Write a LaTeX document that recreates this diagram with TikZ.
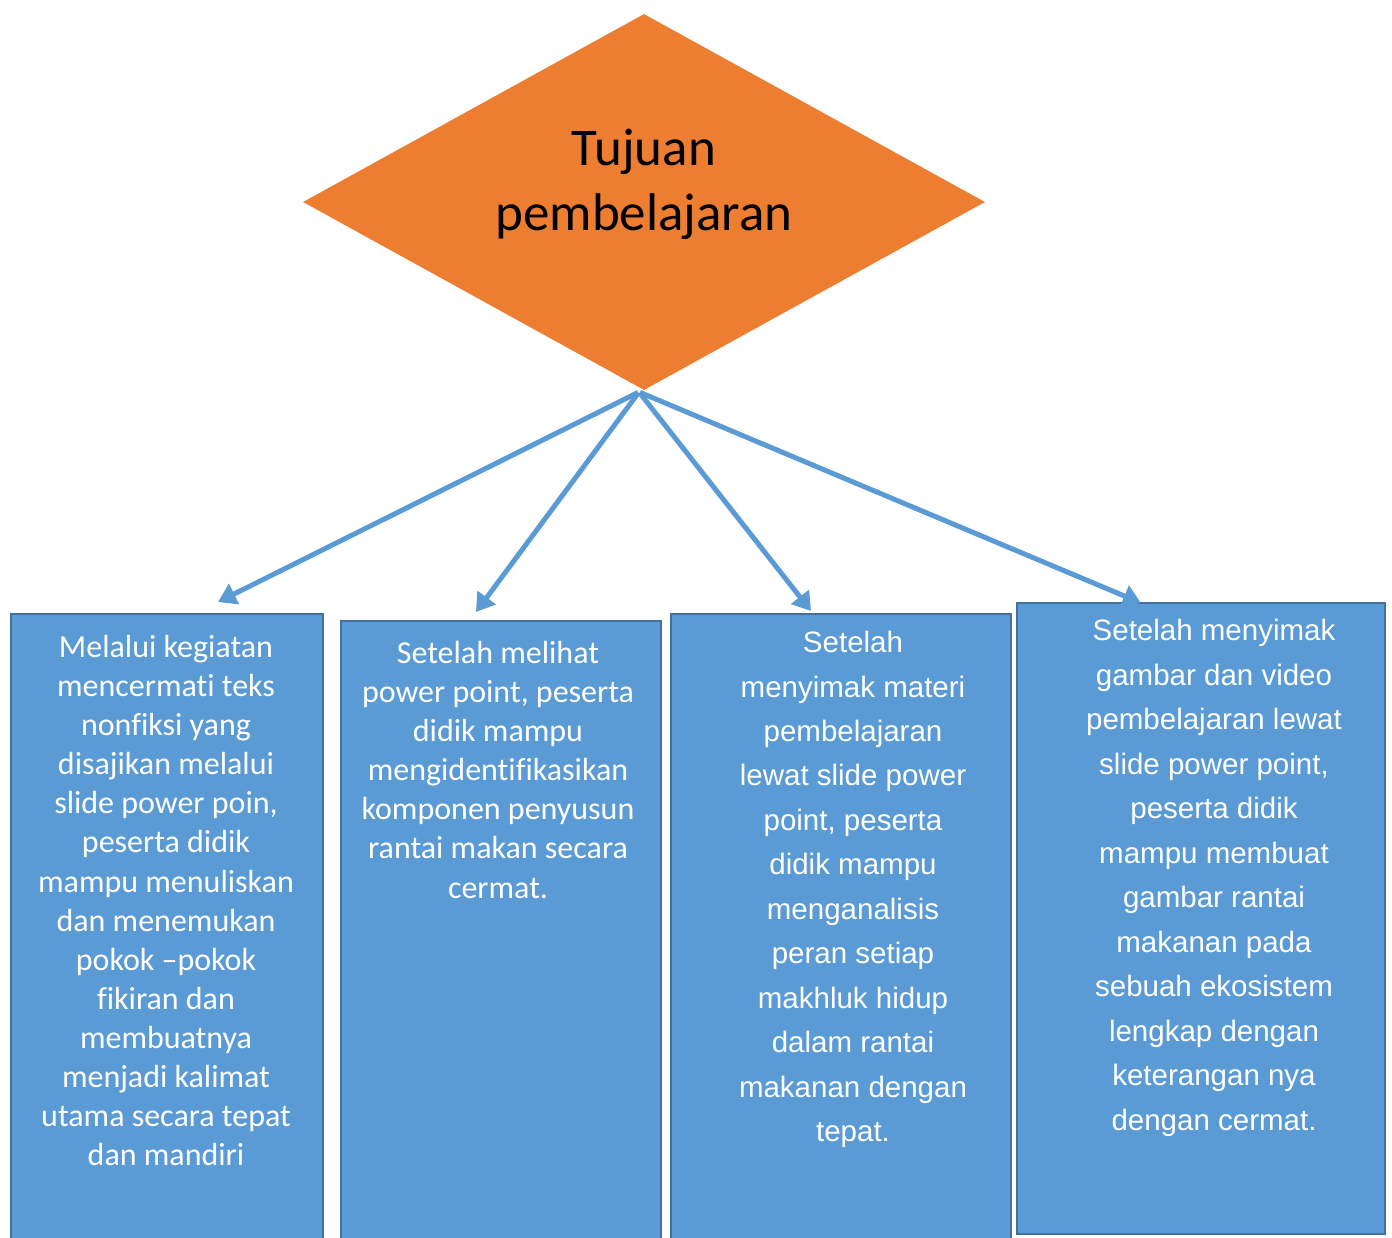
\documentclass[tikz,border=0pt]{standalone}
\usepackage{fontspec}
\setmainfont{Carlito}[Ligatures={NoCommon}]
\newfontfamily\arialfont{Liberation Sans}
\usetikzlibrary{shapes.geometric,arrows.meta}

\definecolor{goalorange}{HTML}{ED7D31}
\definecolor{boxblue}{HTML}{5B9BD5}
\definecolor{boxedge}{HTML}{41719C}

\tikzset{
  goalshape/.style={shape=diamond, fill=goalorange, inner sep=0pt,
    minimum width=682pt, minimum height=376pt},
  goaltext/.style={font=\fontsize{53}{65}\selectfont, align=center, inner sep=0pt},
  aimbox/.style={draw=boxedge, line width=2pt, fill=boxblue, inner sep=0pt},
  aimtext/.style={text=white, align=center, anchor=north, inner sep=0pt},
  aimarrow/.style={draw=boxblue, line width=5pt,
    -{Triangle[length=18pt,width=22pt]}, shorten <=1pt}
}

\begin{document}
\begin{tikzpicture}[x=1pt,y=-1pt]
  \useasboundingbox (0,0) rectangle (1392,1237);

  \node[goalshape] (goal) at (644,202) {};
  \node[goaltext] (goallabel) at (644,184) {Tujuan\\pembelajaran};
  \coordinate (root) at (639,392);

  % boxes
  \node[aimbox, minimum width=312pt, minimum height=640pt, anchor=north west] (box1) at (10,613) {};
  \node[aimbox, minimum width=320pt, minimum height=640pt, anchor=north west] (box2) at (340,620) {};
  \node[aimbox, minimum width=340pt, minimum height=640pt, anchor=north west] (box3) at (670,613) {};
  \node[aimbox, minimum width=368pt, minimum height=631pt, anchor=north west] (box4) at (1016,602) {};

  % texts
  \node[aimtext, font=\fontsize{32}{39.1}\selectfont] (text1) at (166,635)
    {Melalui kegiatan\\mencermati teks\\nonfiksi yang\\disajikan melalui\\slide power poin,\\peserta didik\\mampu menuliskan\\dan menemukan\\pokok --pokok\\fikiran dan\\membuatnya\\menjadi kalimat\\utama secara tepat\\dan mandiri};
  \node[aimtext, font=\fontsize{32}{39.1}\selectfont] (text2) at (498,641)
    {Setelah melihat\\power point, peserta\\didik mampu\\mengidentifikasikan\\komponen penyusun\\rantai makan secara\\cermat.};
  \node[aimtext, font=\arialfont\fontsize{29.5}{44.45}\selectfont] (text3) at (853,631)
    {Setelah\\menyimak materi\\pembelajaran\\lewat slide power\\point, peserta\\didik mampu\\menganalisis\\peran setiap\\makhluk hidup\\dalam rantai\\makanan dengan\\tepat.};
  \node[aimtext, font=\arialfont\fontsize{29.5}{44.5}\selectfont] (text4) at (1214,619)
    {Setelah menyimak\\gambar dan video\\pembelajaran lewat\\slide power point,\\peserta didik\\mampu membuat\\gambar rantai\\makanan pada\\sebuah ekosistem\\lengkap dengan\\keterangan nya\\dengan cermat.};

  % arrows
  \coordinate (tip1) at (218,602);
  \coordinate (tip2) at (476,612);
  \coordinate (tip3) at (811,611);
  \coordinate (tip4) at (1141,603);
  \foreach \t in {tip1,tip2,tip3,tip4}
    \draw[aimarrow] (root) -- (\t);
\end{tikzpicture}
\end{document}
